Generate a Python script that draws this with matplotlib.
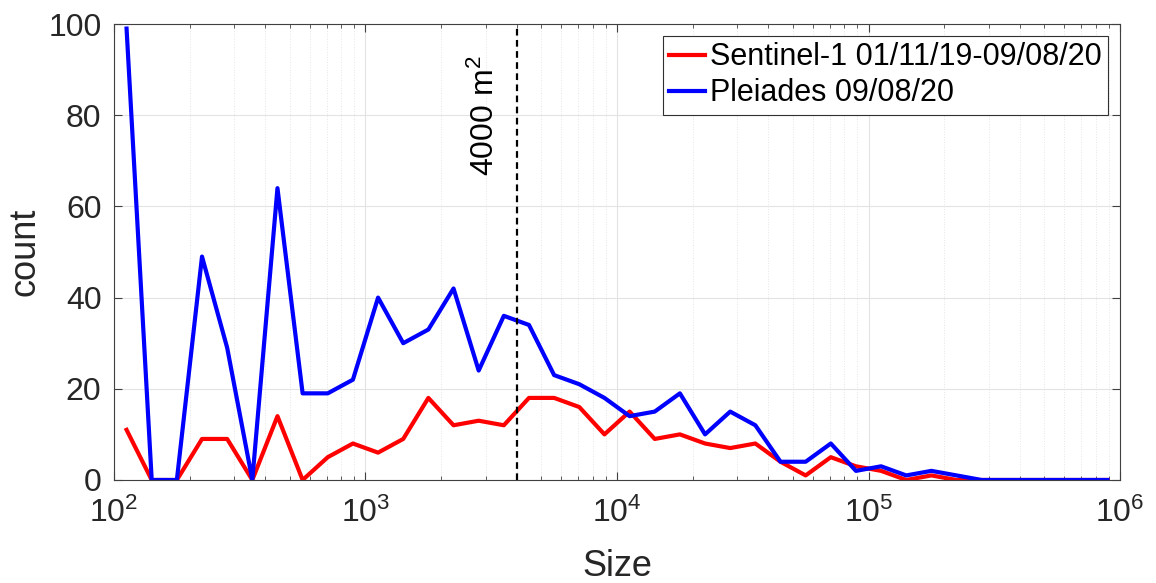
import numpy as np
import matplotlib
matplotlib.use('Agg')
import matplotlib.pyplot as plt

# bin centres: log-spaced, 0.1 decade apart, starting at 10^2.05
bin_exponents = [2.05 + 0.1 * k for k in range(40)]
sizes = [10 ** e for e in bin_exponents]

sentinel_counts = [11, 0, 0, 9, 9, 0, 14, 0, 5, 8,
                   6, 9, 18, 12, 13, 12, 18, 18, 16, 10,
                   15, 9, 10, 8, 7, 8, 4, 1, 5, 3,
                   2, 0, 1, 0, 0, 0, 0, 0, 0, 0]
pleiades_counts = [99, 0, 0, 49, 29, 0, 64, 19, 19, 22,
                   40, 30, 33, 42, 24, 36, 34, 23, 21, 18,
                   14, 15, 19, 10, 15, 12, 4, 4, 8, 2,
                   3, 1, 2, 1, 0, 0, 0, 0, 0, 0]

threshold = 4000
labels = ['Sentinel-1 01/11/19-09/08/20', 'Pleiades 09/08/20']

txt = '#262626'
plt.rcParams['font.family'] = ['Liberation Sans', 'DejaVu Sans']
plt.rcParams['mathtext.fontset'] = 'custom'
plt.rcParams['mathtext.rm'] = 'Liberation Sans'
plt.rcParams['mathtext.it'] = 'Liberation Sans'
plt.rcParams['text.color'] = txt

fig = plt.figure(figsize=(11.56, 5.83), dpi=100)
ax = fig.add_axes([0.0986, 0.1767, 0.8703, 0.7821])

ax.plot(sizes, sentinel_counts, color='#ff0000', lw=3, label=labels[0])
ax.plot(sizes, pleiades_counts, color='#0000ff', lw=3, label=labels[1])
ax.axvline(threshold, color='black', ls='--', lw=1.6, dashes=(3, 2))
ax.text(3000, 93, '4000 m$^2$', rotation=90, ha='center', va='top',
        fontsize=23, color='black')

ax.set_xscale('log')
ax.set_xlim(1e2, 1e6)
ax.set_ylim(0, 100)
ax.set_yticks([0, 20, 40, 60, 80, 100])

ax.grid(True, which='major', color='#e3e3e3', lw=0.8)
ax.grid(True, which='minor', axis='x', color='#e6e6e6', lw=0.7, ls=':')
ax.set_axisbelow(True)

ax.tick_params(which='both', direction='in', top=True, right=True,
               labelsize=23, color='#404040', labelcolor=txt)
ax.tick_params(which='major', length=6)
ax.tick_params(which='minor', length=3)
ax.tick_params(axis='x', which='major', pad=13)
ax.tick_params(axis='y', which='major', pad=9)
for s in ax.spines.values():
    s.set_color('#404040')
    s.set_linewidth(0.8)

ax.set_xlabel('Size', fontsize=26, labelpad=14, color=txt)
ax.set_ylabel('count', fontsize=26, labelpad=4, color=txt)

leg = ax.legend(loc='upper right', fontsize=22, fancybox=False,
                framealpha=1, edgecolor='#303030', handlelength=1.2,
                handletextpad=0.15, borderpad=0.2, labelspacing=0.2,
                borderaxespad=0.4)
leg.get_frame().set_linewidth(0.8)
for t in leg.get_texts():
    t.set_color('black')

fig.savefig('out.png', dpi=100)
